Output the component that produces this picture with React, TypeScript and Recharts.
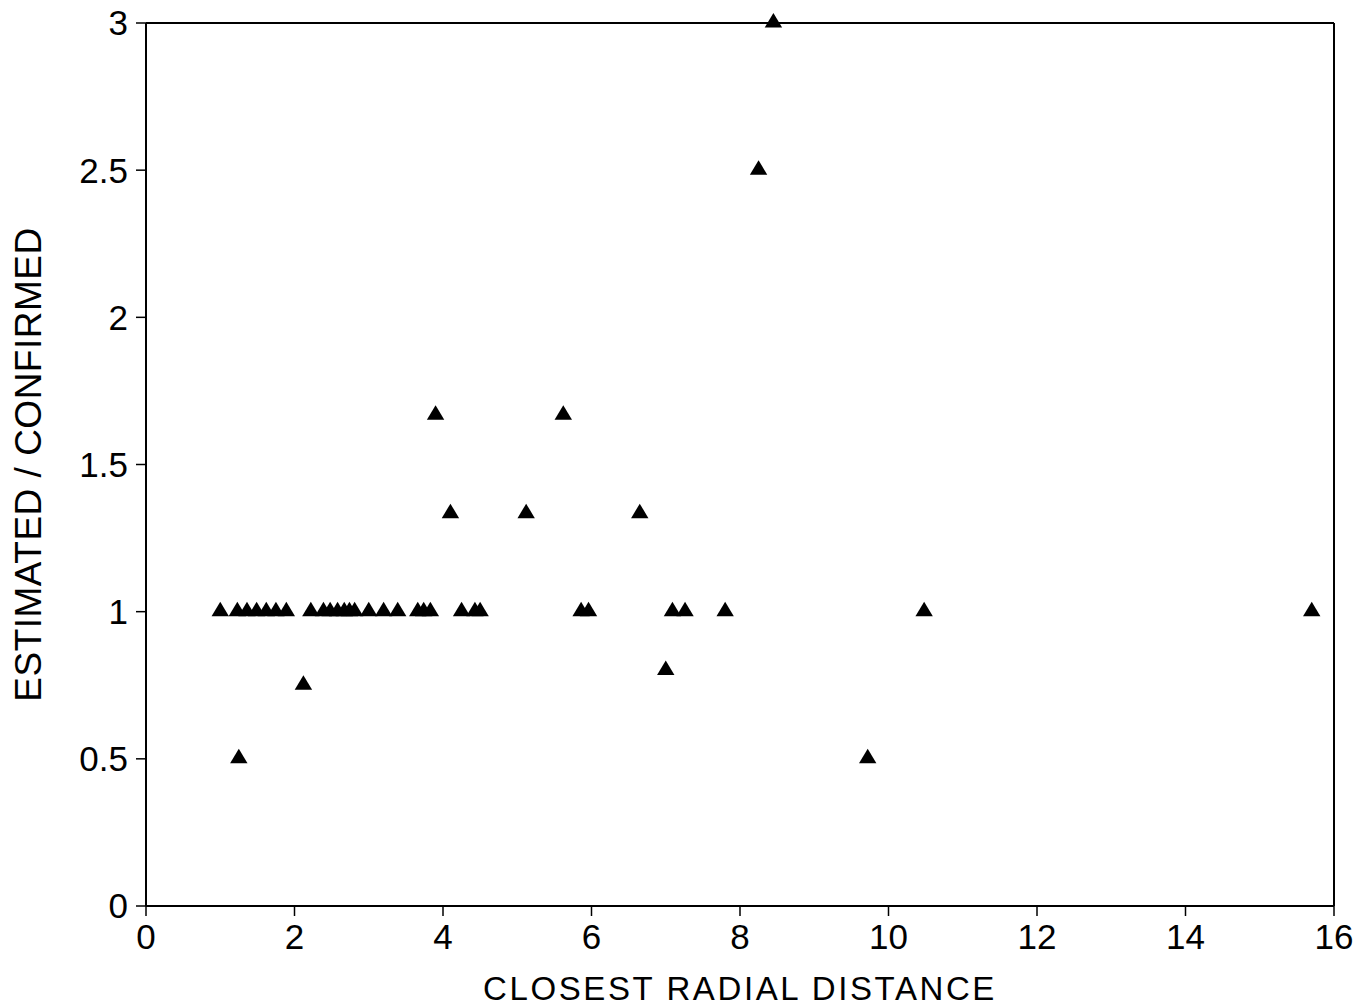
import React from "react";
import { ScatterChart, Scatter, XAxis, YAxis, ReferenceLine } from "recharts";

const xValues = [
  1.0, 1.23, 1.36, 1.49, 1.62, 1.75, 1.89,
  2.22, 2.39, 2.48, 2.58, 2.67, 2.74, 2.81, 3.0, 3.2, 3.39, 3.66, 3.74, 3.83,
  4.25, 4.43, 4.5,
  5.86, 5.96, 7.09, 7.26, 7.8,
  1.25, 2.12, 3.9, 4.1, 5.12, 5.62, 6.65, 7.0, 8.25, 8.45, 9.72, 10.48, 15.7,
];
const yValues = [
  1, 1, 1, 1, 1, 1, 1,
  1, 1, 1, 1, 1, 1, 1, 1, 1, 1, 1, 1, 1,
  1, 1, 1,
  1, 1, 1, 1, 1,
  0.5, 0.75, 1.667, 1.333, 1.333, 1.667, 1.333, 0.8, 2.5, 3.0, 0.5, 1.0, 1.0,
];
const xTicks = [0, 2, 4, 6, 8, 10, 12, 14, 16];
const yTicks = [0, 0.5, 1, 1.5, 2, 2.5, 3];

const points = xValues.map((x, i) => ({ x, y: yValues[i] }));

const FONT = "'Liberation Sans', Arial, Helvetica, sans-serif";

const Tri = (props: any) => {
  const { cx, cy } = props;
  if (cx == null || cy == null) return null;
  const pts = `${cx},${cy - 10} ${cx - 8.7},${cy + 4.5} ${cx + 8.7},${cy + 4.5}`;
  return <polygon points={pts} fill="#000" stroke="none" />;
};

export default function App() {
  return (
    <div style={{ position: "absolute", left: 0, top: 0, width: 1368, height: 1006, background: "#fff" }}>
      <ScatterChart
        width={1368}
        height={1006}
        margin={{ top: 23, right: 34, bottom: 0, left: 86 }}
      >
        <XAxis
          type="number"
          dataKey="x"
          domain={[0, 16]}
          ticks={xTicks}
          interval={0}
          height={100}
          stroke="#000"
          strokeWidth={2}
          tickSize={10}
          tickLine={{ stroke: "#000", strokeWidth: 1.5 }}
          tick={{ fill: "#000", fontSize: 35, fontFamily: FONT, dy: 6 }}
          label={{
            value: "CLOSEST RADIAL DISTANCE",
            position: "insideBottom",
            offset: 6,
            fill: "#000",
            fontSize: 33,
            fontFamily: FONT,
            style: { letterSpacing: "2.6px" },
          }}
        />
        <YAxis
          type="number"
          dataKey="y"
          domain={[0, 3]}
          ticks={yTicks}
          interval={0}
          width={60}
          stroke="#000"
          strokeWidth={2}
          tickSize={10}
          tickLine={{ stroke: "#000", strokeWidth: 1.5 }}
          tick={{ fill: "#000", fontSize: 35, fontFamily: FONT, dx: -6 }}
          label={{
            value: "ESTIMATED / CONFIRMED",
            angle: -90,
            position: "insideLeft",
            offset: -58,
            style: { textAnchor: "middle", letterSpacing: "0.5px" },
            fill: "#000",
            fontSize: 37,
            fontFamily: FONT,
          }}
        />
        <ReferenceLine y={3} stroke="#000" strokeWidth={2} />
        <ReferenceLine x={16} stroke="#000" strokeWidth={2} />
        <Scatter data={points} shape={<Tri />} isAnimationActive={false} />
      </ScatterChart>
    </div>
  );
}
